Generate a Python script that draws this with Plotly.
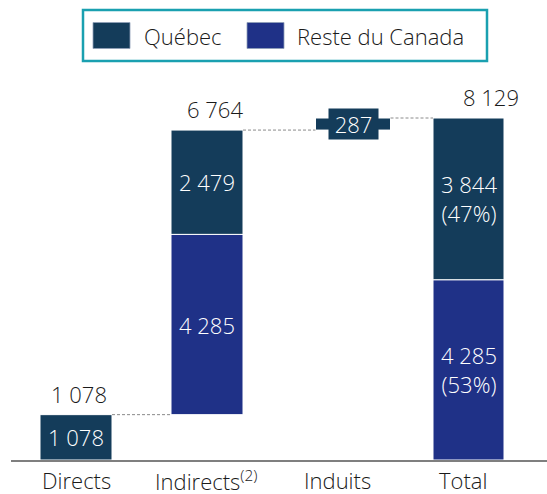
import plotly.graph_objects as go

# Economic impact by type (jobs), split between Québec and the rest of Canada
categories = ["Directs", "Indirects<sup>(2)</sup>", "Induits", "Total"]
quebec = [1078, 2479, 287, 3844]
reste_canada = [0, 4285, 0, 4285]

# Layout: horizontal positions (in pixel-like axis units) for bars and labels
bar_pos = [76, 207, 353, 468.5]
label_pos = [76, 206, 337, 463]
bar_width = [72, 72, 75, 71]
total_label_shift = [3, 8, 0, 22]

QC_COLOR = "#143c5a"
RC_COLOR = "#1f3187"
TEXT_COLOR = "#1a1a1a"
FONT = "Open Sans"
FS = 22
WEIGHT = 350

W, H = 547, 494
PLOT_BOTTOM = 460  # pixel row of the x axis


def fmt(v):
    return f"{v:,}".replace(",", " ")


def py(pix):
    # pixel row -> paper fraction (plot area spans rows 0..PLOT_BOTTOM)
    return (PLOT_BOTTOM - pix) / PLOT_BOTTOM


def tfont(color):
    return dict(color=color, size=FS, family=FONT, weight=WEIGHT)


# Waterfall bases: each stage starts where the cumulative total ended
col_total = [q + r for q, r in zip(quebec, reste_canada)]
start = []
cum = 0
for i in range(len(categories)):
    if i == len(categories) - 1:
        start.append(0)
    else:
        start.append(cum)
        cum += col_total[i]
rc_base = start
qc_base = [s + r for s, r in zip(start, reste_canada)]
tops = [s + t for s, t in zip(start, col_total)]

fig = go.Figure()

idx_rc = [i for i, v in enumerate(reste_canada) if v > 0]
fig.add_trace(go.Bar(
    x=[bar_pos[i] for i in idx_rc], y=[reste_canada[i] for i in idx_rc],
    base=[rc_base[i] for i in idx_rc], width=[bar_width[i] for i in idx_rc],
    marker=dict(color=RC_COLOR, line=dict(color="white", width=1)),
    name="Reste du Canada", showlegend=False, hoverinfo="skip",
))
fig.add_trace(go.Bar(
    x=bar_pos, y=quebec, base=qc_base, width=bar_width,
    marker=dict(color=QC_COLOR, line=dict(color="white", width=1)),
    name="Québec", showlegend=False, hoverinfo="skip",
))

annotations = []
grand_total = col_total[-1]
for i in range(len(categories)):
    last = i == len(categories) - 1
    # Québec segment label
    qtxt = fmt(quebec[i])
    if last:
        qtxt += f"<br>({round(100 * quebec[i] / grand_total)}%)"
    if i == 2:
        annotations.append(dict(
            x=bar_pos[i], y=qc_base[i] + quebec[i] / 2, text=qtxt, showarrow=False,
            font=tfont("white"), bgcolor=QC_COLOR, borderpad=0, width=49, height=30,
        ))
    else:
        annotations.append(dict(
            x=bar_pos[i], y=qc_base[i] + quebec[i] / 2, text=qtxt, showarrow=False,
            font=tfont("white"),
        ))
    # Rest of Canada segment label
    if reste_canada[i] > 0:
        rtxt = fmt(reste_canada[i])
        if last:
            rtxt += f"<br>({round(100 * reste_canada[i] / grand_total)}%)"
        annotations.append(dict(
            x=bar_pos[i], y=rc_base[i] + reste_canada[i] / 2, text=rtxt, showarrow=False,
            font=tfont("white"),
        ))
    # Column total above the bar
    if i != 2:
        annotations.append(dict(
            x=bar_pos[i], y=tops[i], text=fmt(col_total[i]), showarrow=False,
            yanchor="bottom", yshift=4, xshift=total_label_shift[i],
            font=tfont(TEXT_COLOR),
        ))

# x-axis category labels
for p, c in zip(label_pos, categories):
    annotations.append(dict(
        x=p, y=0, yref="y", text=c, showarrow=False, yanchor="top", yshift=-3,
        font=tfont(TEXT_COLOR),
    ))

shapes = []
# Dashed connectors between consecutive stages
for i in range(len(categories) - 1):
    shapes.append(dict(
        type="line", xref="x", yref="y",
        x0=bar_pos[i] + bar_width[i] / 2, x1=bar_pos[i + 1] - bar_width[i + 1] / 2,
        y0=tops[i], y1=tops[i],
        line=dict(color="#8a8a8a", width=1, dash="3px,2px"),
    ))

# Legend box
shapes.append(dict(
    type="rect", xref="x", yref="paper", x0=83, x1=487, y0=py(61), y1=py(10),
    line=dict(color="#1aa0b0", width=2.5), fillcolor="white", layer="above",
))
legend_items = [("Québec", QC_COLOR, 93, 142), ("Reste du Canada", RC_COLOR, 247, 295)]
for name, color, sx, tx in legend_items:
    shapes.append(dict(
        type="rect", xref="x", yref="paper", x0=sx, x1=sx + 37, y0=py(48.5), y1=py(22.5),
        line=dict(color="#8fa0b8", width=0.8), fillcolor=color, layer="above",
    ))
    annotations.append(dict(
        x=tx, y=py(36), xref="x", yref="paper", text=name, showarrow=False,
        xanchor="left", yanchor="middle", font=tfont(TEXT_COLOR),
    ))

fig.update_layout(
    width=W, height=H,
    margin=dict(l=11, r=0, t=0, b=H - PLOT_BOTTOM),
    plot_bgcolor="white", paper_bgcolor="white",
    barmode="overlay",
    showlegend=False,
    xaxis=dict(range=[11, 547], showgrid=False, zeroline=False, showticklabels=False,
               showline=True, linecolor="#7f7f7f", linewidth=1.5, fixedrange=True),
    yaxis=dict(range=[0, PLOT_BOTTOM * grand_total / 342], showgrid=False, zeroline=False,
               showticklabels=False, showline=False, fixedrange=True),
    annotations=annotations,
    shapes=shapes,
    font=dict(family=FONT),
)

fig.write_html("out.html")
